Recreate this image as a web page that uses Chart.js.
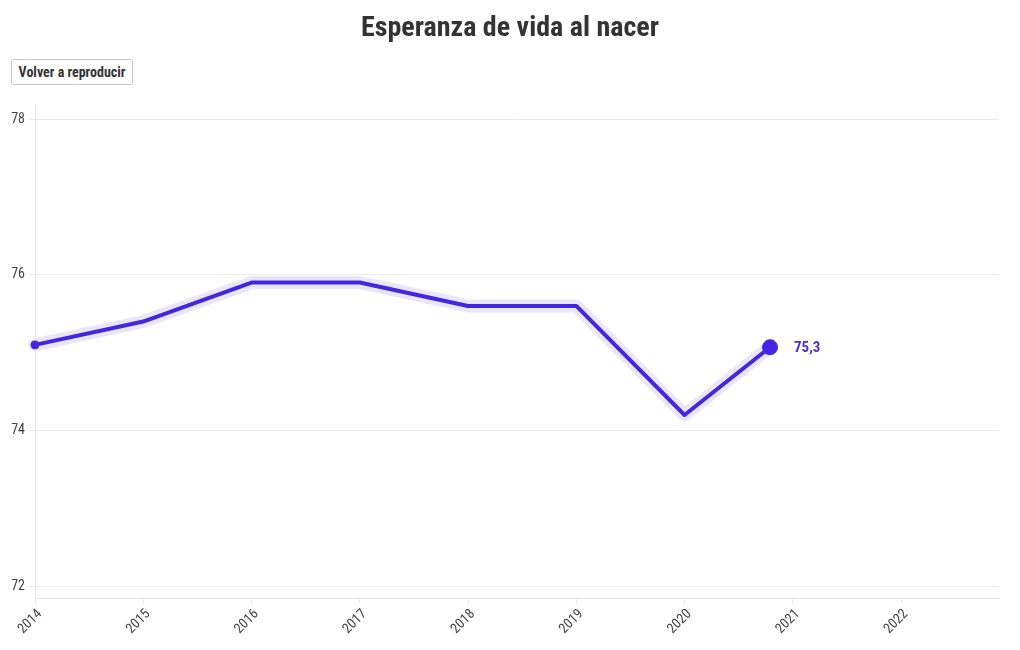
<!DOCTYPE html>
<html>
<head>
<meta charset="utf-8">
<script src="https://cdn.jsdelivr.net/npm/chart.js@4.4.1/dist/chart.umd.min.js"></script>
<style>
  html, body { margin:0; padding:0; background:#fff; }
  body { width:1020px; height:650px; position:relative; overflow:hidden;
         font-family:'Roboto Condensed','Liberation Sans Narrow','DejaVu Sans Condensed',Roboto,sans-serif; }
  #title { position:absolute; left:0; top:9px; width:1020px; text-align:center;
           font-size:28px; font-weight:bold; color:#333; line-height:36px; }
  #btn { position:absolute; left:11px; top:59px; width:122px; height:26px; box-sizing:border-box;
         border:1px solid #c8c8c8; border-radius:2px; background:#fff; color:#333;
         font-size:14px; font-weight:bold; text-align:center; line-height:24px; }
  #wrap { position:absolute; left:0; top:0; width:1020px; height:650px; }
</style>
</head>
<body>
<div id="wrap"><canvas id="c" width="1020" height="650"></canvas></div>
<div id="title">Esperanza de vida al nacer</div>
<div id="btn">Volver a reproducir</div>
<script>
// Data (last point is where the line currently ends)
const years  = [2014, 2015, 2016, 2017, 2018, 2019, 2020, 2020.79];
const values = [75.1, 75.4, 75.9, 75.9, 75.6, 75.6, 74.2, 75.07];
const endLabel = '75,3';
const xTicks = [2014, 2015, 2016, 2017, 2018, 2019, 2020, 2021, 2022];
const yTicks = [72, 74, 76, 78];

const FONT = "'Roboto Condensed','Liberation Sans Narrow','DejaVu Sans Condensed',Roboto,sans-serif";
const LINE = '#4526e0';
const makePts = () => years.map((y, i) => ({ x: y, y: values[i] }));
const lastIdx = years.length - 1;

const endLabelPlugin = {
  id: 'endLabel',
  afterDatasetsDraw(chart) {
    const meta = chart.getDatasetMeta(1);
    const p = meta.data[lastIdx];
    const ctx = chart.ctx;
    ctx.save();
    ctx.font = "bold 15px " + FONT;
    ctx.fillStyle = '#4a2fcf';
    ctx.textAlign = 'left';
    ctx.textBaseline = 'middle';
    ctx.fillText(endLabel, p.x + 24, p.y + 1);
    ctx.restore();
  }
};

new Chart(document.getElementById('c'), {
  type: 'line',
  data: {
    datasets: [
      { data: makePts(), borderColor: '#e9e5fb', borderWidth: 13, pointRadius: 0,
        borderCapStyle: 'round', borderJoinStyle: 'round', tension: 0, clip: false, order: 2 },
      { data: makePts(), borderColor: LINE, borderWidth: 4, backgroundColor: LINE,
        pointBackgroundColor: LINE, pointBorderColor: LINE, pointBorderWidth: 1,
        tension: 0, clip: false, borderJoinStyle: 'round', order: 1,
        pointRadius: [4, 0, 0, 0, 0, 0, 0, 7.5] }
    ]
  },
  options: {
    responsive: false,
    animation: false,
    layout: { padding: { top: 105, right: 21, left: 0, bottom: 0 } },
    plugins: { legend: { display: false }, tooltip: { enabled: false } },
    scales: {
      x: {
        type: 'linear', min: 2014, max: 2022.905,
        afterBuildTicks: (s) => { s.ticks = xTicks.map(v => ({ value: v })); },
        afterFit: (s) => { s.height = 52; },
        grid: { drawOnChartArea: false, color: '#e6e6e6', tickLength: 5 },
        border: { color: '#e6e6e6' },
        ticks: { minRotation: 45, maxRotation: 45, padding: 3, labelOffset: 5, color: '#444',
                 font: { family: FONT, size: 14 }, callback: (v) => String(v) }
      },
      y: {
        min: 71.85, max: 78.18,
        afterBuildTicks: (s) => { s.ticks = yTicks.map(v => ({ value: v })); },
        afterFit: (s) => { s.width = 35; },
        grid: { color: '#ebebeb', tickLength: 6 },
        border: { color: '#e6e6e6' },
        ticks: { padding: 4, color: '#444', font: { family: FONT, size: 14 },
                 callback: (v) => String(v) }
      }
    }
  },
  plugins: [endLabelPlugin]
});
</script>
</body>
</html>
